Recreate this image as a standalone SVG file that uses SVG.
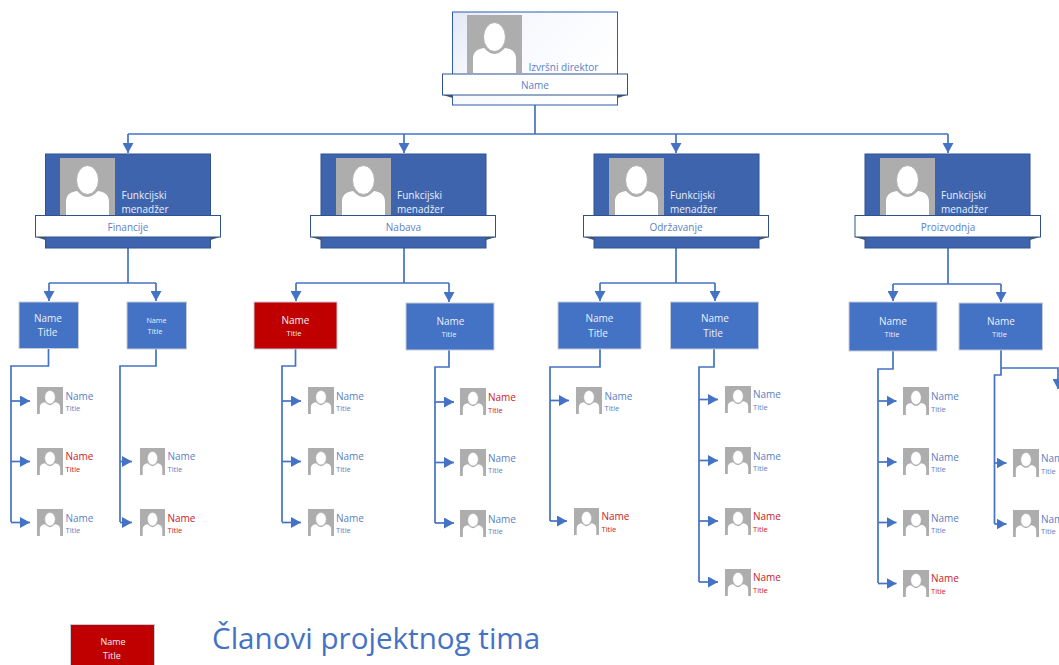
<svg xmlns="http://www.w3.org/2000/svg" xmlns:xlink="http://www.w3.org/1999/xlink" width="1059" height="665" viewBox="0 0 1059 665">
<style>
text{font-family:"Open Sans","Liberation Sans",sans-serif}
.c{fill:none;stroke:#4472C4;stroke-width:1.7}
.m{text-anchor:middle}
.band{fill:#fff;stroke:#2F528F;stroke-width:1}
.fold{fill:#44546A}
.card{fill:#3E64AD;stroke:#2F528F;stroke-width:1}
.box{fill:#4472C4;stroke:#C5CBD6;stroke-width:1}
.red{fill:#C00000;stroke:#C5CBD6;stroke-width:1}
.w{fill:#EAF0FA}
.b{fill:#5B7FC4}
.r{fill:#CC2027}
.n{font-size:10px}
.t{font-size:7.5px}
.lab{font-size:10px}
</style>
<defs>
<linearGradient id="ceo" x1="0" y1="0" x2="1" y2="0.55"><stop offset="0" stop-color="#E3E8F6"/><stop offset="0.35" stop-color="#F6F8FD"/><stop offset="1" stop-color="#FFFFFF"/></linearGradient>
<marker id="a" markerUnits="userSpaceOnUse" markerWidth="10" markerHeight="11" refX="10" refY="5.500" orient="auto"><path d="M0 0L10 5.500L0 11Z" fill="#4472C4"/></marker>
<symbol id="p" viewBox="0 0 55 58" preserveAspectRatio="none"><rect width="55" height="58" fill="#ADADAD"/><path d="M6 58V44C6 37 10 34 17 33C20 36 24 39 27.500 39C31 39 35 36 38 33C45 34 49 37 49 44V58Z" fill="#fff"/><ellipse cx="27.500" cy="22" rx="11" ry="14.500" fill="#fff" stroke="#ADADAD" stroke-width="1"/></symbol>
</defs>

<g id="connectors">
<path class="c" d="M535 105V134"/>
<path class="c" d="M128 134H948"/>
<path class="c" marker-end="url(#a)" d="M128 134V153"/>
<path class="c" marker-end="url(#a)" d="M404 134V153"/>
<path class="c" marker-end="url(#a)" d="M676 134V153"/>
<path class="c" marker-end="url(#a)" d="M948 134V153"/>

<path class="c" d="M128 248V283"/><path class="c" d="M49 283H156"/>
<path class="c" marker-end="url(#a)" d="M49 283V301"/><path class="c" marker-end="url(#a)" d="M156 283V301"/>
<path class="c" d="M404 248V283"/><path class="c" d="M296 283H449"/>
<path class="c" marker-end="url(#a)" d="M296 283V301"/><path class="c" marker-end="url(#a)" d="M449 283V302"/>
<path class="c" d="M676 248V283"/><path class="c" d="M600 283H715"/>
<path class="c" marker-end="url(#a)" d="M600 283V301"/><path class="c" marker-end="url(#a)" d="M715 283V301"/>
<path class="c" d="M948 248V284"/><path class="c" d="M893 284H1001"/>
<path class="c" marker-end="url(#a)" d="M893 284V301"/><path class="c" marker-end="url(#a)" d="M1001 284V302"/>

<path class="c" d="M48.500 348V366H11V522"/>
<path class="c" marker-end="url(#a)" d="M11 401H30"/><path class="c" marker-end="url(#a)" d="M11 461.500H30"/><path class="c" marker-end="url(#a)" d="M11 522.500H30"/>
<path class="c" d="M156 349V366H120V522"/>
<path class="c" marker-end="url(#a)" d="M120 461.500H132"/><path class="c" marker-end="url(#a)" d="M120 522.500H132"/>

<path class="c" d="M295.500 349V366H282V522"/>
<path class="c" marker-end="url(#a)" d="M282 401H301"/><path class="c" marker-end="url(#a)" d="M282 461.500H301"/><path class="c" marker-end="url(#a)" d="M282 522.500H301"/>
<path class="c" d="M449 350V367H435V523"/>
<path class="c" marker-end="url(#a)" d="M435 402H454"/><path class="c" marker-end="url(#a)" d="M435 462.500H454"/><path class="c" marker-end="url(#a)" d="M435 523H454"/>

<path class="c" d="M600 349V367H550V521"/>
<path class="c" marker-end="url(#a)" d="M550 400.500H569"/><path class="c" marker-end="url(#a)" d="M550 521H567"/>
<path class="c" d="M714 349V367H699V582"/>
<path class="c" marker-end="url(#a)" d="M699 399.500H718"/><path class="c" marker-end="url(#a)" d="M699 460.500H718"/><path class="c" marker-end="url(#a)" d="M699 521H718"/><path class="c" marker-end="url(#a)" d="M699 582H718"/>

<path class="c" d="M893 351V369H878V583"/>
<path class="c" marker-end="url(#a)" d="M878 401H896.500"/><path class="c" marker-end="url(#a)" d="M878 462H896.500"/><path class="c" marker-end="url(#a)" d="M878 522.500H896.500"/><path class="c" marker-end="url(#a)" d="M878 583.500H896.500"/>
<path class="c" d="M1001 350V375H994.500V524"/>
<path class="c" marker-end="url(#a)" d="M994.500 463H1006.500"/><path class="c" marker-end="url(#a)" d="M994.500 524H1006.500"/>
<path class="c" marker-end="url(#a)" d="M1001 368H1058V389"/>
</g>

<g id="ceo-node">
<rect x="452.500" y="12" width="165" height="93" fill="url(#ceo)" stroke="#2F5BB0"/>
<use xlink:href="#p" href="#p" x="467" y="15" width="55" height="58"/>
<text x="528.500" y="71" class="lab b">Izvršni direktor</text>
<path class="fold" d="M443 95L452.500 98V95ZM627 95L617.500 98V95Z"/>
<rect class="band" x="442.500" y="74" width="185" height="21"/>
<text x="535" y="88.500" class="lab b m">Name</text>
</g>

<g id="mgr-financije">
<rect class="card" x="45.500" y="154" width="165" height="94"/>
<use xlink:href="#p" href="#p" x="60" y="158" width="55" height="58"/>
<text x="121.500" y="199" class="lab w">Funkcijski</text><text x="121.500" y="213" class="lab w">menadžer</text>
<path class="fold" d="M36 237L45.500 240V237ZM220 237L210.500 240V237Z"/>
<rect class="band" x="35.500" y="215.500" width="185" height="21.500"/>
<text x="128" y="231" class="lab b m">Financije</text>
</g>
<g id="mgr-nabava">
<rect class="card" x="321" y="154" width="165" height="94"/>
<use xlink:href="#p" href="#p" x="336" y="158" width="55" height="58"/>
<text x="397" y="199" class="lab w">Funkcijski</text><text x="397" y="213" class="lab w">menadžer</text>
<path class="fold" d="M311 237L321 240V237ZM496 237L486 240V237Z"/>
<rect class="band" x="310.500" y="215.500" width="185" height="21.500"/>
<text x="403.500" y="231" class="lab b m">Nabava</text>
</g>
<g id="mgr-odrzavanje">
<rect class="card" x="594" y="154" width="165" height="94"/>
<use xlink:href="#p" href="#p" x="609" y="158" width="55" height="58"/>
<text x="670" y="199" class="lab w">Funkcijski</text><text x="670" y="213" class="lab w">menadžer</text>
<path class="fold" d="M584 237L594 240V237ZM769 237L759 240V237Z"/>
<rect class="band" x="583.500" y="215.500" width="185" height="21.500"/>
<text x="676" y="231" class="lab b m">Održavanje</text>
</g>
<g id="mgr-proizvodnja">
<rect class="card" x="865" y="154" width="165" height="94"/>
<use xlink:href="#p" href="#p" x="880" y="158" width="55" height="58"/>
<text x="941" y="199" class="lab w">Funkcijski</text><text x="941" y="213" class="lab w">menadžer</text>
<path class="fold" d="M855 237L865 240V237ZM1040 237L1030 240V237Z"/>
<rect class="band" x="855" y="215.500" width="185.500" height="21.500"/>
<text x="948" y="231" class="lab b m">Proizvodnja</text>
</g>

<g id="lead-1"><rect class="box" x="19" y="302" width="59.500" height="46.500"/><text x="48" y="322" class="n w m">Name</text><text x="47.500" y="336" class="n w m">Title</text></g>
<g id="lead-2"><rect class="box" x="127" y="302" width="59.500" height="47"/><text x="156.500" y="323" class="m w" style="font-size:7.200px">Name</text><text x="155" y="334" class="t w m">Title</text></g>
<g id="lead-3"><rect class="red" x="254" y="302" width="83" height="47"/><text x="295.500" y="324" class="n w m">Name</text><text x="294" y="336" class="t w m">Title</text></g>
<g id="lead-4"><rect class="box" x="406" y="303" width="88" height="47"/><text x="450.500" y="325" class="n w m">Name</text><text x="449" y="337" class="t w m">Title</text></g>
<g id="lead-5"><rect class="box" x="558" y="302" width="83" height="47"/><text x="599.500" y="322" class="n w m">Name</text><text x="598" y="337" class="n w m">Title</text></g>
<g id="lead-6"><rect class="box" x="670.500" y="302" width="88" height="47"/><text x="715" y="322" class="n w m">Name</text><text x="713" y="337" class="n w m">Title</text></g>
<g id="lead-7"><rect class="box" x="849" y="302" width="88" height="49"/><text x="893" y="325" class="n w m">Name</text><text x="892" y="337" class="t w m">Title</text></g>
<g id="lead-8"><rect class="box" x="959" y="303" width="83.500" height="47"/><text x="1001" y="325" class="n w m">Name</text><text x="999.500" y="337" class="t w m">Title</text></g>

<g id="m1"><use xlink:href="#p" href="#p" x="37" y="387" width="26" height="27"/><text x="65.500" y="400" class="n b">Name</text><text x="65.500" y="411" class="t b">Title</text></g>
<g id="m2"><use xlink:href="#p" href="#p" x="37" y="448" width="26" height="27"/><text x="65.500" y="460" class="n r">Name</text><text x="65.500" y="472" class="t r">Title</text></g>
<g id="m3"><use xlink:href="#p" href="#p" x="37" y="509" width="26" height="27"/><text x="65.500" y="522" class="n b">Name</text><text x="65.500" y="533" class="t b">Title</text></g>
<g id="m4"><use xlink:href="#p" href="#p" x="140" y="448" width="25" height="27"/><text x="167.500" y="460" class="n b">Name</text><text x="167.500" y="472" class="t b">Title</text></g>
<g id="m5"><use xlink:href="#p" href="#p" x="140" y="509" width="25" height="27"/><text x="167.500" y="522" class="n r">Name</text><text x="167.500" y="533" class="t r">Title</text></g>

<g id="m6"><use xlink:href="#p" href="#p" x="308" y="387" width="26" height="27"/><text x="336" y="400" class="n b">Name</text><text x="336" y="411" class="t b">Title</text></g>
<g id="m7"><use xlink:href="#p" href="#p" x="308" y="448" width="26" height="27"/><text x="336" y="460" class="n b">Name</text><text x="336" y="472" class="t b">Title</text></g>
<g id="m8"><use xlink:href="#p" href="#p" x="308" y="509" width="26" height="27"/><text x="336" y="522" class="n b">Name</text><text x="336" y="533" class="t b">Title</text></g>
<g id="m9"><use xlink:href="#p" href="#p" x="460" y="388" width="26" height="27"/><text x="488" y="401" class="n r">Name</text><text x="488" y="413" class="t r">Title</text></g>
<g id="m10"><use xlink:href="#p" href="#p" x="460" y="449" width="26" height="27"/><text x="488" y="462" class="n b">Name</text><text x="488" y="473" class="t b">Title</text></g>
<g id="m11"><use xlink:href="#p" href="#p" x="460" y="510" width="26" height="27"/><text x="488" y="523" class="n b">Name</text><text x="488" y="534" class="t b">Title</text></g>

<g id="m12"><use xlink:href="#p" href="#p" x="576" y="387" width="26" height="27"/><text x="604.500" y="400" class="n b">Name</text><text x="604.500" y="411" class="t b">Title</text></g>
<g id="m13"><use xlink:href="#p" href="#p" x="574" y="508" width="25" height="27"/><text x="601.500" y="520" class="n r">Name</text><text x="601.500" y="532" class="t r">Title</text></g>
<g id="m14"><use xlink:href="#p" href="#p" x="725" y="386" width="26" height="27"/><text x="753" y="398" class="n b">Name</text><text x="753" y="410" class="t b">Title</text></g>
<g id="m15"><use xlink:href="#p" href="#p" x="725" y="447" width="26" height="27"/><text x="753" y="460" class="n b">Name</text><text x="753" y="471" class="t b">Title</text></g>
<g id="m16"><use xlink:href="#p" href="#p" x="725" y="508" width="26" height="27"/><text x="753" y="520" class="n r">Name</text><text x="753" y="532" class="t r">Title</text></g>
<g id="m17"><use xlink:href="#p" href="#p" x="725" y="569" width="26" height="27"/><text x="753" y="581" class="n r">Name</text><text x="753" y="593" class="t r">Title</text></g>

<g id="m18"><use xlink:href="#p" href="#p" x="903" y="387" width="26" height="28"/><text x="931" y="400" class="n b">Name</text><text x="931" y="412" class="t b">Title</text></g>
<g id="m19"><use xlink:href="#p" href="#p" x="903" y="448" width="26" height="27"/><text x="931" y="461" class="n b">Name</text><text x="931" y="472" class="t b">Title</text></g>
<g id="m20"><use xlink:href="#p" href="#p" x="903" y="510" width="26" height="26"/><text x="931" y="522" class="n b">Name</text><text x="931" y="533" class="t b">Title</text></g>
<g id="m21"><use xlink:href="#p" href="#p" x="903" y="570" width="26" height="27"/><text x="931" y="582" class="n r">Name</text><text x="931" y="594" class="t r">Title</text></g>
<g id="m22"><use xlink:href="#p" href="#p" x="1013" y="449" width="26" height="28"/><text x="1041" y="462" class="n b">Name</text><text x="1041" y="474" class="t b">Title</text></g>
<g id="m23"><use xlink:href="#p" href="#p" x="1013" y="510" width="26" height="27"/><text x="1041" y="523" class="n b">Name</text><text x="1041" y="534" class="t b">Title</text></g>

<g id="legend"><rect class="red" x="70.500" y="624.500" width="84" height="42"/><text x="113" y="645" class="w m" style="font-size:9px">Name</text><text x="112" y="659" class="w m" style="font-size:9px">Title</text></g>
<text x="212" y="649" style="font-size:29.600px;fill:#4472C4">Članovi projektnog tima</text>
</svg>
